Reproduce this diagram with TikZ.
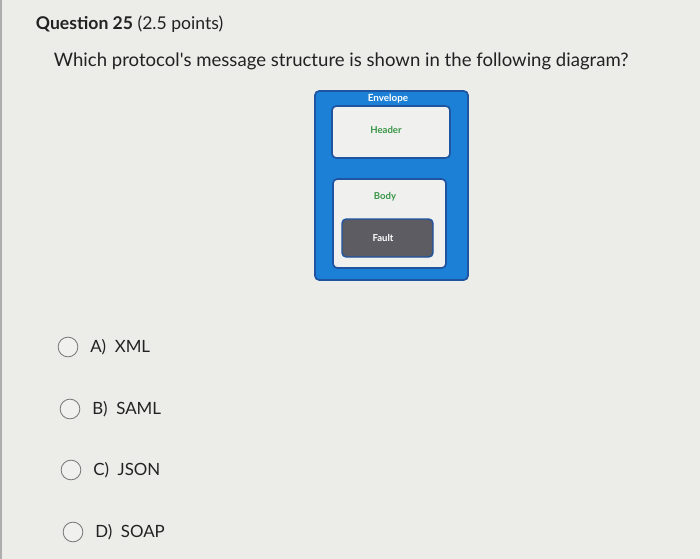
\documentclass[tikz,border=0pt]{standalone}
\usepackage{fontspec}
\setmainfont{Lato}
\usepackage{tikz}
\usetikzlibrary{positioning}
\definecolor{pagebg}{RGB}{236,236,233}
\definecolor{envblue}{RGB}{28,128,214}
\definecolor{envdark}{RGB}{30,84,160}
\definecolor{boxfill}{RGB}{240,240,238}
\definecolor{hdrgreen}{RGB}{58,150,72}
\definecolor{faultgray}{RGB}{92,92,98}
\definecolor{txtdark}{RGB}{34,34,34}
\definecolor{radiogray}{RGB}{120,120,120}
\tikzset{
  envbox/.style={rectangle, draw=envdark, fill=envblue, line width=1.2pt,
    rounded corners=3pt},
  partbox/.style={rectangle, draw=envdark, fill=boxfill, line width=1.2pt,
    rounded corners=3pt},
  faultbox/.style={rectangle, draw=envdark, fill=faultgray, line width=1pt,
    rounded corners=3pt},
  parttext/.style={font=\bfseries\fontsize{6.8}{8}\selectfont, color=hdrgreen},
  radio/.style={circle, draw=radiogray, fill=boxfill, line width=0.6pt,
    minimum size=14pt, inner sep=0pt},
  optext/.style={font=\fontsize{12}{14}\selectfont, color=txtdark, anchor=west}
}
\begin{document}
\begin{tikzpicture}[x=0.025cm, y=-0.025cm]
  % Page
  \fill[pagebg] (0,0) rectangle (700,559);
  \useasboundingbox (0,0) rectangle (700,559);
  \draw[radiogray!60, line width=1pt] (1,0) -- (1,559);

  % Question
  \node[anchor=west, font=\fontsize{12.5}{15}\selectfont, color=txtdark] (qtitle) at (31,24)
    {\textbf{Question 25} (2.5 points)};
  \node[anchor=west, font=\fontsize{13.2}{16}\selectfont, color=txtdark] (qtext) at (49,61)
    {Which protocol\textquotesingle s message structure is shown in the following diagram?};

  % Envelope
  \draw[envbox] (315,91) rectangle (468,280);
  \node[font=\bfseries\fontsize{7}{8}\selectfont, color=white] (envelope) at (388,99) {Envelope};
  \draw[partbox] (332,106) rectangle (450,158);
  \node[parttext] (header) at (386,130) {Header};
  \draw[partbox] (333,179) rectangle (446,268);
  \node[parttext] (body) at (385,197) {Body};
  \draw[faultbox] (342,219) rectangle (433,257);
  \node[font=\bfseries\fontsize{6.8}{8}\selectfont, color=white] (fault) at (383,238) {Fault};

  % Options
  \node[radio] (ra) at (68,347) {};
  \node[optext, right=5pt of ra] (oa) {A)\ \ XML};
  \node[radio] (rb) at (70,409) {};
  \node[optext, right=5pt of rb] (ob) {B)\ \ SAML};
  \node[radio] (rc) at (71,470) {};
  \node[optext, right=5pt of rc] (oc) {C)\ \ JSON};
  \node[radio] (rd) at (73,532) {};
  \node[optext, right=5pt of rd] (od) {D)\ \ SOAP};
\end{tikzpicture}
\end{document}
